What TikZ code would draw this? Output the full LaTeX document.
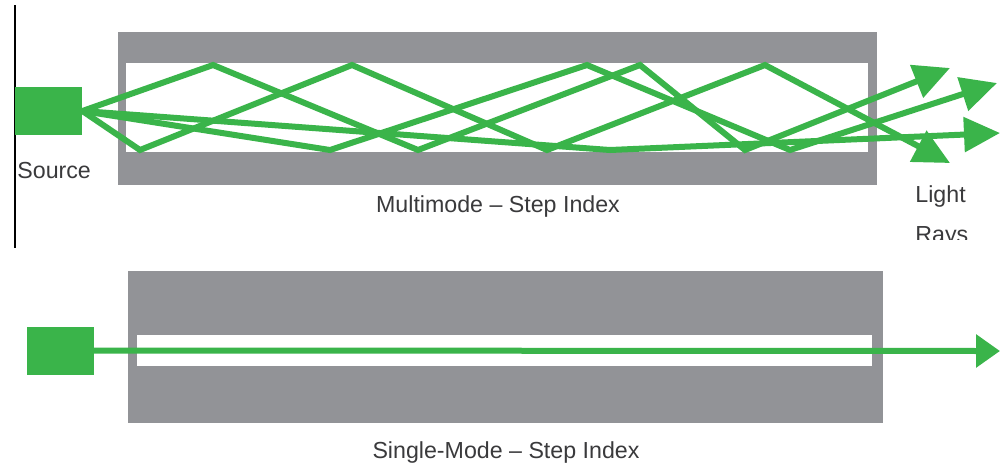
\documentclass[tikz,border=0pt]{standalone}
\usepackage{fontspec}
\setmainfont{Liberation Sans}
\usetikzlibrary{arrows.meta}
\definecolor{cladgray}{RGB}{146,147,151}
\definecolor{raygreen}{RGB}{58,180,74}
\definecolor{labelgray}{RGB}{58,58,60}
\begin{document}
\begin{tikzpicture}
[x=0.5pt,y=-0.5pt,
 every node/.style={inner sep=0pt, text=labelgray, font=\fontsize{11.6}{14}\selectfont},
 source/.style={rectangle, fill=raygreen, minimum width=33.5pt, minimum height=24pt},
 ray/.style={draw=raygreen, line width=3pt, line join=miter},
 raytip/.style={-{Triangle[length=18pt,width=17pt]}}]
\fill[white] (0,0) rectangle (1000,468);
\useasboundingbox (0,0) rectangle (1000,468);
% multimode fibre
\fill[cladgray] (118,32) rectangle (877,185);
\fill[white] (126,63) rectangle (868,152);
\draw[black, line width=1pt] (15,5) -- (15,248);
\node[source] (srcM) at (48.5,111) {};
\node[anchor=base west] (srcLabel) at (17,178) {Source};
\node[anchor=base] (multiLabel) at (498,212) {Multimode – Step Index};
\node[anchor=base west] (lightLabel) at (915,202) {Light};
\begin{scope}
\clip (880,205) rectangle (1000,239);
\node[anchor=base west] (raysLabel) at (915,242) {Rays};
\end{scope}
% bounce points on the core walls
\foreach \n/\x in {1/213,2/352,3/587,4/640,5/765}
  \coordinate (t\n) at (\x,65);
\foreach \n/\x in {1/140,2/330,3/418,4/547,5/745,6/790,7/610}
  \coordinate (b\n) at (\x,150);
\coordinate (e1) at (950,68);
\coordinate (e2) at (997,83);
\coordinate (e3) at (1000,133);
\coordinate (e4) at (950,163);
\draw[ray,raytip] (srcM.east) -- (t1) -- (b3) -- (t4) -- (b5) -- (e1);
\draw[ray,raytip] (srcM.east) -- (b1) -- (t2) -- (b4) -- (t5) -- (e4);
\draw[ray,raytip] (srcM.east) -- (b2) -- (t3) -- (b6) -- (e2);
\draw[ray,raytip] (srcM.east) -- (b7) -- (e3);
% single-mode fibre
\fill[cladgray] (128,271) rectangle (883,423);
\fill[white] (137,335) rectangle (872,366);
\node[source] (srcS) at (60,350.5) {};
\coordinate (endS) at (1000,351);
\draw[ray,-{Triangle[length=12pt,width=16pt]}] (srcS.east) -- (endS);
\node[anchor=base] (singleLabel) at (506,458) {Single-Mode – Step Index};
\end{tikzpicture}
\end{document}
